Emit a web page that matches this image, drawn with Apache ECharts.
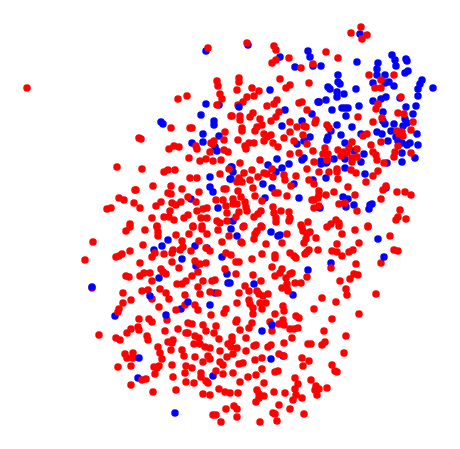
<!DOCTYPE html>
<html>
<head>
<meta charset="utf-8">
<script src="https://cdn.jsdelivr.net/npm/echarts@6/dist/echarts.min.js"></script>
<style>
  html, body { margin: 0; padding: 0; background: #fff; }
  #chart { width: 460px; height: 449px; }
</style>
</head>
<body>
<div id="chart"></div>
<script>
// values, the axes are hidden so units are arbitrary
var blueUnder = [
  [206,51],[206,104],[219,105],[201,115],[161,122],[163,124],[214,121],[214,125],[203,134],[219,136],
  [203,142],[192,143],[215,147],[217,151],[231,167],[210,177],[230,179],[210,187],[213,192],[191,199],[218,208],
  [360,34],[248,45],[308,51],[310,57],[280,57],[392,55],[395,60],[406,59],[407,61],[357,62],[378,63],[396,66],
  [295,67],[313,66],[321,66],[377,69],[408,71],[405,73],[338,75],[377,75],[385,75],[422,80],[420,84],[338,82],
  [340,84],[373,83],[385,83],[389,82],[394,86],[418,89],[433,88],[328,87],[330,89],[270,90],[356,89],[337,92],
  [344,94],[337,97],[418,96],[386,97],[381,99],[400,98],[373,101],[326,100],[359,106],[416,106],[406,107],
  [342,108],[345,108],[348,108],[332,110],[285,110],[383,112],[312,114],[413,114],[346,116],[405,119],[302,121],
  [383,121],[385,124],[407,123],[403,126],[337,125],[394,124],[282,126],[352,127],[391,131],[331,131],[377,132],
  [382,134],[361,134],[417,134],[341,135],[396,137],[328,137],[310,137],[327,140],[304,141],[388,141],[398,141],
  [402,143],[297,144],[345,143],[410,143],[407,145],[418,145],[354,151],[364,154],[402,153],[415,158],[277,159],
  [304,158],[302,160],[345,159],[334,159],[321,161],[361,162],[402,162],[387,163],[289,164],[321,164],[326,163],
  [327,162],[268,165],[345,168],[282,168],[232,167],[233,172],[276,172],[365,174],[326,178],[231,179],[263,184],
  [294,184],[313,180],[272,188],[386,188],[343,197],[348,199],[265,198],[299,198],[354,205],[372,204],[370,205],
  [369,209],[346,207],[320,208],[233,221],
  [168,240],[162,246],[154,250],[195,246],[207,248],[222,257],[182,259],[196,266],[227,274],[159,278],[228,283],
  [215,293],[210,305],[181,309],[115,316],[138,378],[213,376],[175,413],
  [231,229],[237,236],[271,232],[278,236],[280,235],[378,239],[331,263],[308,270],[254,284],[293,295],[271,359],
  [283,356],[230,283]
];
var redPoints = [
  [208,48],[27,88],[217,81],[218,86],[220,94],[222,99],[187,96],[178,99],[217,105],[231,116],[171,128],[190,128],
  [192,128],[225,132],[139,138],[141,139],[224,140],[214,141],[211,143],[213,144],[196,146],[197,149],[174,146],
  [169,149],[179,147],[210,152],[224,150],[228,152],[189,158],[200,161],[206,159],[213,161],[221,160],[117,167],
  [142,169],[164,172],[168,170],[175,170],[229,169],[220,174],[190,178],[197,178],[153,186],[171,186],[135,190],
  [136,190],[182,189],[224,189],[226,189],[168,193],[171,194],[199,192],[188,197],[119,198],[124,200],[134,203],
  [161,202],[156,206],[172,203],[176,205],[181,202],[196,202],[216,200],[223,200],[226,206],[140,208],[111,208],
  [107,209],[203,209],[207,208],[197,211],[170,211],[227,213],[188,215],[184,218],[152,218],[164,217],[169,217],
  [174,220],[201,218],[207,218],[217,221],[227,221],[130,224],[157,226],[193,226],[202,226],[220,223],
  [361,27],[351,33],[367,35],[362,39],[247,43],[274,46],[276,50],[326,52],[289,58],[338,58],[276,60],[272,63],
  [313,64],[301,68],[369,75],[394,75],[280,79],[239,78],[239,82],[309,83],[381,80],[290,85],[286,88],[252,88],
  [237,90],[259,91],[375,88],[381,88],[401,97],[247,97],[254,96],[277,100],[243,102],[238,105],[274,104],[267,106],
  [299,103],[302,102],[378,104],[376,109],[307,110],[279,112],[253,113],[250,117],[232,116],[240,116],[240,120],
  [276,117],[260,119],[358,117],[398,113],[404,114],[382,118],[271,121],[316,120],[315,123],[373,122],[290,122],
  [413,122],[262,125],[257,127],[327,125],[329,128],[297,127],[304,126],[306,127],[242,128],[242,131],[255,131],
  [290,132],[411,130],[303,135],[264,134],[271,135],[267,137],[284,138],[367,134],[363,136],[397,131],[402,132],
  [399,134],[403,136],[238,140],[264,141],[254,143],[249,143],[245,146],[246,149],[273,143],[278,147],[294,141],
  [307,144],[352,142],[371,145],[381,142],[398,146],[325,148],[313,151],[338,150],[349,148],[357,149],[373,152],
  [299,153],[290,154],[344,152],[347,153],[323,154],[328,154],[341,156],[376,155],[395,152],[394,157],[411,153],
  [352,158],[357,157],[327,160],[314,162],[352,162],[377,160],[260,160],[240,163],[384,163],[307,169],[272,169],
  [252,170],[244,173],[264,173],[267,174],[337,169],[337,172],[319,172],[329,172],[351,170],[356,173],[378,171],
  [284,175],[296,176],[373,176],[239,178],[258,177],[273,177],[250,180],[285,180],[338,179],[237,182],[242,182],
  [309,180],[314,184],[366,182],[291,186],[348,187],[253,188],[386,186],[383,190],[397,192],[405,192],[411,195],
  [238,191],[319,191],[334,192],[355,195],[275,193],[278,193],[255,196],[287,196],[319,195],[326,195],[318,198],
  [312,200],[314,200],[262,201],[381,199],[241,197],[245,202],[233,199],[233,204],[237,204],[246,207],[339,204],
  [345,203],[319,206],[314,208],[273,207],[357,211],[400,210],[247,211],[239,212],[261,211],[258,214],[254,217],
  [281,211],[289,212],[274,213],[276,218],[290,218],[289,221],[276,222],[236,217],[398,217],[396,220],[406,219],
  [308,222],[336,220],[339,223],[244,226],[261,226],[301,225],[331,224],[368,226],
  [130,227],[126,231],[145,230],[157,227],[158,232],[158,236],[176,235],[189,234],[193,227],[202,229],[207,234],
  [218,230],[229,236],[93,242],[143,245],[182,241],[199,241],[222,242],[183,247],[180,250],[173,250],[172,253],
  [130,251],[122,254],[119,256],[116,257],[155,253],[152,257],[164,254],[191,251],[206,248],[210,251],[226,253],
  [85,260],[140,263],[172,262],[195,261],[200,264],[206,263],[179,268],[225,269],[161,269],[163,272],[166,274],
  [198,272],[150,273],[144,273],[140,276],[126,276],[129,277],[192,276],[152,281],[203,281],[212,281],[215,280],
  [177,284],[182,284],[186,281],[198,287],[200,294],[210,292],[218,293],[142,291],[148,290],[160,289],[166,293],
  [123,293],[92,288],[185,295],[169,299],[131,300],[152,299],[123,303],[185,305],[195,305],[198,310],[159,307],
  [176,310],[119,309],[118,312],[211,315],[224,313],[226,309],[167,320],[139,319],[149,319],[152,322],[188,323],
  [192,324],[203,325],[216,326],[206,331],[138,327],[139,330],[131,329],[127,333],[178,329],[165,331],[99,335],
  [214,333],[186,333],[188,333],[195,336],[199,338],[147,336],[148,340],[116,338],[120,340],[219,339],[173,340],
  [168,342],[172,343],[194,344],[200,344],[205,347],[210,348],[228,344],[158,347],[171,350],[182,350],[220,351],
  [160,353],[133,353],[125,354],[127,358],[133,358],[184,356],[195,357],[208,356],[210,359],[227,357],[162,359],
  [203,362],[220,362],[223,365],[118,367],[131,366],[172,365],[154,367],[159,366],[157,368],[186,366],[192,368],
  [155,374],[185,373],[201,373],[216,371],[223,374],[173,377],[201,377],[146,379],[142,380],[186,382],[194,383],
  [206,381],[208,383],[131,385],[176,390],[153,392],[219,389],[225,392],[203,394],[210,395],[226,409],[213,415],
  [216,415],[221,422],[230,393],
  [243,227],[262,227],[257,231],[255,234],[254,239],[287,234],[282,243],[302,227],[303,231],[310,232],[307,234],
  [306,239],[304,243],[316,238],[327,227],[339,226],[342,234],[355,230],[368,227],[359,243],[337,244],[390,236],
  [241,242],[242,243],[266,244],[231,255],[262,254],[275,255],[275,258],[290,253],[294,256],[296,258],[252,259],
  [309,250],[307,252],[305,254],[318,250],[332,251],[337,252],[342,256],[349,252],[353,250],[394,250],[398,251],
  [381,263],[236,262],[239,262],[272,267],[331,268],[356,264],[282,269],[280,273],[275,276],[292,273],[290,274],
  [307,277],[236,274],[253,275],[261,281],[354,274],[358,275],[350,279],[340,281],[286,278],[287,284],[282,288],
  [287,288],[288,291],[295,283],[301,283],[245,286],[257,291],[249,291],[239,293],[259,294],[263,296],[268,294],
  [346,289],[347,295],[376,294],[322,298],[249,300],[250,304],[237,303],[260,303],[266,303],[336,302],[253,308],
  [262,309],[283,306],[284,311],[314,309],[253,314],[275,314],[296,316],[299,318],[359,314],[332,319],[237,320],
  [236,322],[252,323],[249,328],[270,322],[279,324],[283,320],[284,325],[290,329],[294,329],[298,328],[272,331],
  [240,330],[324,331],[346,336],[232,337],[232,341],[246,338],[292,338],[284,343],[256,345],[254,346],[271,345],
  [268,347],[308,344],[311,344],[325,342],[322,345],[231,347],[237,348],[246,351],[233,354],[279,354],[284,356],
  [344,353],[302,358],[309,361],[303,366],[262,358],[255,360],[239,364],[243,363],[332,365],[335,371],[337,372],
  [262,369],[278,371],[275,372],[233,373],[256,375],[248,377],[295,378],[311,380],[240,382],[264,383],[298,384],
  [295,389],[316,386],[319,389],[327,388],[315,390],[317,395],[257,390],[238,393],[274,392],[285,393],[259,394],
  [264,396],[259,398],[296,395],[302,398],[293,400],[256,402],[279,405],[234,406],[237,409],[290,409],[273,413],
  [275,414],[304,414],[237,417],[260,422],[277,421],[319,102]
];
// the few blue points that sit over a red one
var blueOver = [
  [92,287],[150,296],[188,302],[166,315],[139,358],[239,107],[318,102],[319,102],[272,325],[262,331],[384,257]
];

function pointSeries(points, color) {
  return {
    type: 'scatter',
    data: points,
    symbolSize: 7.5,
    itemStyle: { color: color, opacity: 1 },
    silent: true
  };
}

var chart = echarts.init(document.getElementById('chart'));
chart.setOption({
  animation: false,
  backgroundColor: '#fff',
  grid: { left: 0, right: 0, top: 0, bottom: 0 },
  xAxis: { type: 'value', min: 0, max: 460, show: false },
  yAxis: { type: 'value', min: 0, max: 449, inverse: true, show: false },
  series: [
    pointSeries(blueUnder, '#0000ff'),
    pointSeries(redPoints, '#ff0000'),
    pointSeries(blueOver, '#0000ff')
  ]
});
</script>
</body>
</html>
